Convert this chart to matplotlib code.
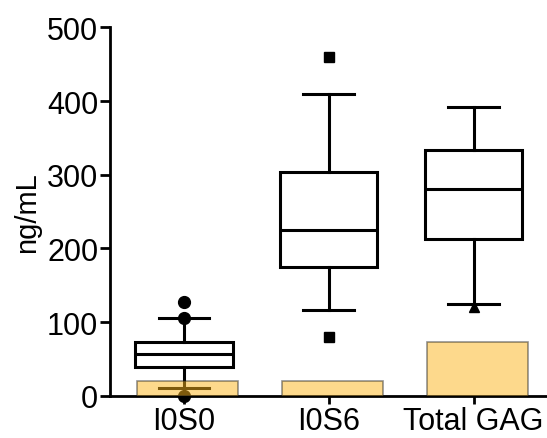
import matplotlib
matplotlib.use('Agg')
from matplotlib import pyplot as plt

plt.rcParams['font.family'] = ['Liberation Sans', 'DejaVu Sans']

categories = ['I0S0', 'I0S6', 'Total GAG']
q1 = [38.5, 175, 213]
medians = [56, 225, 280]
q3 = [73, 304, 334]
whislo = [10, 116, 125]
whishi = [105, 409, 392]
fliers = [[127, 105, 0], [460, 79], [120]]
flier_markers = ['o', 's', '^']
bar_values = [20, 20, 72.5]

positions = list(range(len(categories)))

fig = plt.figure(figsize=(5.47, 4.39), dpi=100)
ax = fig.add_axes([0.2011, 0.0964, 0.799, 0.839])

stats = []
for i, name in enumerate(categories):
    stats.append({'label': name, 'med': medians[i], 'q1': q1[i], 'q3': q3[i],
                  'whislo': whislo[i], 'whishi': whishi[i], 'fliers': fliers[i]})

lw = 2.2
bp = ax.bxp(stats, positions=positions, widths=0.67, patch_artist=True,
            showfliers=True, capwidths=0.35,
            boxprops=dict(facecolor='white', edgecolor='black', linewidth=lw),
            medianprops=dict(color='black', linewidth=lw),
            whiskerprops=dict(color='black', linewidth=lw),
            capprops=dict(color='black', linewidth=lw),
            flierprops=dict(markerfacecolor='black', markeredgecolor='black', markersize=8.5))
for fl, m in zip(bp['fliers'], flier_markers):
    fl.set_marker(m)
    fl.set_clip_on(False)
    if m in ('s', '^'):
        fl.set_markersize(7.5)

ax.bar([p + 0.025 for p in positions], bar_values, width=0.70,
       facecolor=(0.99, 0.71, 0.10, 0.5), edgecolor=(0.15, 0.15, 0.15, 0.5),
       linewidth=1.2, zorder=5)

ax.set_xlim(-0.511, 2.507)
ax.set_ylim(0, 500)
ax.set_yticks([0, 100, 200, 300, 400, 500])
ax.set_xticks(positions)
ax.set_xticklabels(categories)

for s in ['top', 'right']:
    ax.spines[s].set_visible(False)
for s in ['left', 'bottom']:
    ax.spines[s].set_linewidth(2.0)

ax.tick_params(axis='both', which='major', labelsize=22, width=2.0, length=7, pad=1.5)
ax.tick_params(axis='x', length=6, pad=1.5)
ax.set_ylabel('ng/mL', fontsize=21)
ax.yaxis.set_label_coords(-0.158, 0.5)

plt.savefig('out.png', dpi=100)
